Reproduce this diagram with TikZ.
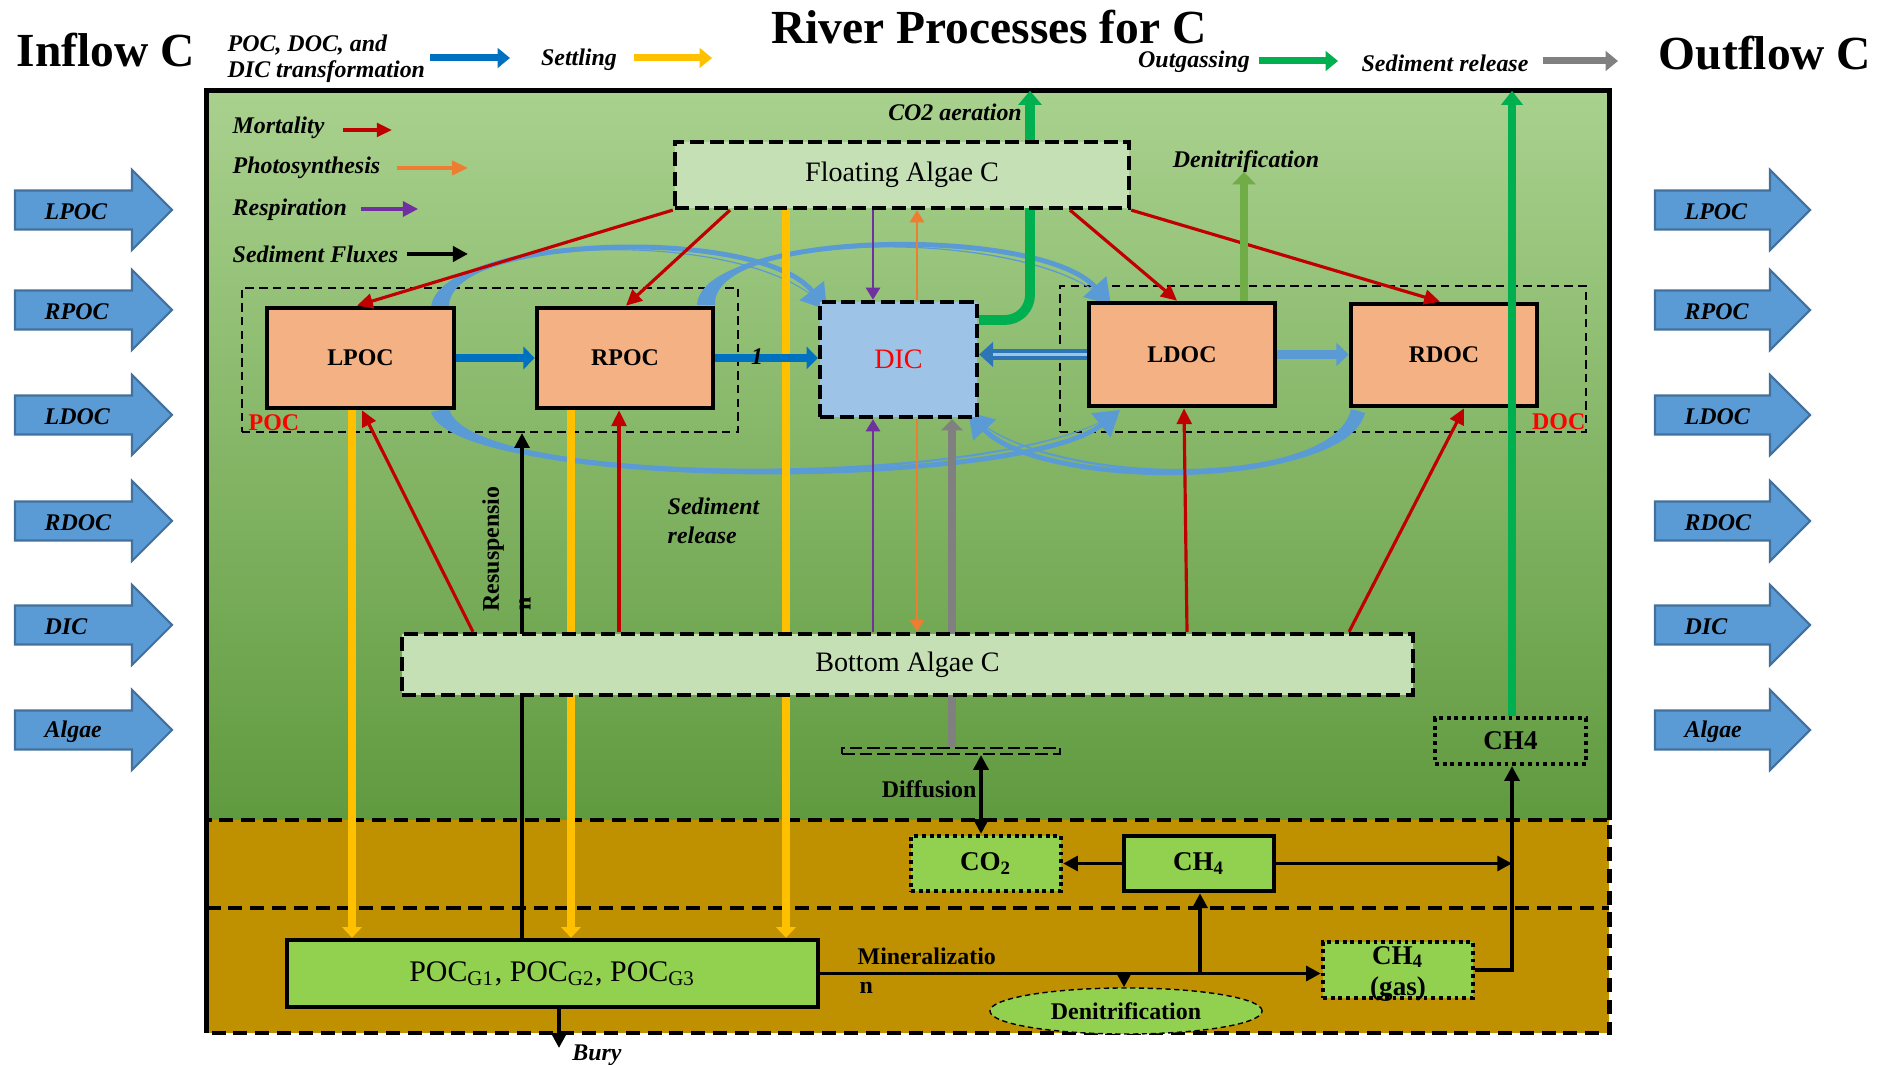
\documentclass[tikz,border=0pt]{standalone}
\usepackage{fontspec}
\setmainfont{Liberation Serif}
\usetikzlibrary{arrows.meta,shapes.geometric}
\definecolor{bluedk}{HTML}{0070C0}
\definecolor{bluelt}{HTML}{5B9BD5}
\definecolor{blueln}{HTML}{41719C}
\definecolor{bluemid}{HTML}{2E75B6}
\definecolor{yellowc}{HTML}{FFC000}
\definecolor{greenc}{HTML}{00B050}
\definecolor{grayc}{HTML}{808080}
\definecolor{redc}{HTML}{C00000}
\definecolor{orangec}{HTML}{ED7D31}
\definecolor{purplec}{HTML}{7030A0}
\definecolor{olivec}{HTML}{70AD47}
\definecolor{peach}{HTML}{F4B183}
\definecolor{paleg}{HTML}{C5E0B4}
\definecolor{dicb}{HTML}{9DC3E6}
\definecolor{brightg}{HTML}{92D050}
\definecolor{soil}{HTML}{BF9000}
\definecolor{gtop}{HTML}{A9D18E}
\definecolor{gbot}{HTML}{609A3F}
\definecolor{redt}{HTML}{FF0000}
\newcommand\fsA{\fontsize{6.8pt}{8pt}\selectfont}
\newcommand\fsB{\fontsize{8pt}{9.5pt}\selectfont}
\newcommand\fsC{\fontsize{7.7pt}{9pt}\selectfont}
\newcommand\fsD{\fontsize{8.5pt}{10pt}\selectfont}
\newcommand\fsT{\fontsize{13.5pt}{16pt}\selectfont}
\begin{document}
\begin{tikzpicture}[x=0.01cm, y=-0.01cm,
  txtb/.style={inner sep=0pt, font=\fsA\bfseries},
  txtbi/.style={inner sep=0pt, font=\fsA\bfseries\itshape},
  peachbox/.style={draw, line width=1.3pt, fill=peach, inner sep=0pt, font=\fsA\bfseries},
  dashbox/.style={draw, line width=1.2pt, dash pattern=on 4pt off 1.6pt, inner sep=0pt},
  dotbox/.style={draw, line width=1.2pt, dash pattern=on 1.1pt off 1.1pt, fill=brightg, inner sep=0pt},
  grpbox/.style={draw, line width=0.6pt, dash pattern=on 2.4pt off 1.5pt, inner sep=0pt},
  solidg/.style={draw, line width=1.3pt, fill=brightg, inner sep=0pt},
  fltbox/.style={dashbox, fill=paleg, minimum width=4.54cm, minimum height=0.66cm, font=\fsB},
  botbox/.style={dashbox, fill=paleg, minimum width=10.11cm, minimum height=0.61cm, font=\fsB},
  redarr/.style={draw=redc, line width=0.9pt, -{Triangle[length=4.5pt,width=4.2pt]}},
  purarr/.style={draw=purplec, line width=0.8pt, -{Triangle[length=3.5pt,width=4pt]}},
  orarr/.style={draw=orangec, line width=0.8pt, -{Triangle[length=3.5pt,width=4pt]}},
  yelarr/.style={draw=yellowc, line width=2.1pt, -{Triangle[length=3pt,width=5.5pt]}},
  grayarr/.style={draw=grayc, line width=2.3pt, -{Triangle[length=3.2pt,width=6pt]}},
  blkarr/.style={draw=black, line width=1.1pt, -{Triangle[length=4.2pt,width=4.2pt]}},
  dkblue/.style={draw=bluedk, line width=2.3pt, -{Triangle[length=3.2pt,width=6.3pt]}},
  curvearr/.style={draw=bluelt, line width=1.4pt, -{Triangle[length=7pt,width=8.5pt]}},
  blockarr/.style={fill=bluelt, draw=blueln, line width=0.6pt},
  sedline/.style={line width=1.3pt, dash pattern=on 4pt off 2.2pt},
]
% canvas
\path[use as bounding box, fill=white] (0,0) rectangle (1885,1065);

% water and sediment regions
\node[top color=gtop, bottom color=gbot, minimum width=14.02cm, minimum height=7.29cm, inner sep=0pt, outer sep=0pt] (water) at (908,455.5) {};
\node[fill=soil, minimum width=14.02cm, minimum height=2.13cm, inner sep=0pt, outer sep=0pt] (soilr) at (908,926.5) {};
\draw[line width=1.4pt] (soilr.south west) -- (water.north west) -- (water.north east) -- (water.south east);
\draw[sedline] (soilr.north west) rectangle (soilr.south east);
\coordinate (sl) at (0,908);
\draw[sedline] (soilr.west |- sl) -- (soilr.east |- sl);

% titles
\node[inner sep=0pt, font=\fsT\bfseries] (title) at (989,27) {River Processes for C};
\node[inner sep=0pt, font=\fsT\bfseries] (inflow) at (106,50) {Inflow C};
\node[inner sep=0pt, font=\fsT\bfseries] (outflow) at (1765,53) {Outflow C};

% top legend
\node[txtbi, anchor=west] (lgt1) at (227,45) {POC, DOC, and};
\node[txtbi, anchor=west] (lgt2) at (227,72) {DIC transformation};
\coordinate (lgA1) at (430,58); \coordinate (lgA2) at (510,58);
\draw[bluedk, line width=2pt, -{Triangle[length=3.5pt,width=5.5pt]}] (lgA1) -- (lgA2);
\node[txtbi] (lgset) at (579,60) {Settling};
\coordinate (lgB1) at (634,58); \coordinate (lgB2) at (712,58);
\draw[yellowc, line width=2pt, -{Triangle[length=3.5pt,width=5.5pt]}] (lgB1) -- (lgB2);
\node[txtbi] (lgout) at (1194,62) {Outgassing};
\coordinate (lgC1) at (1259,61); \coordinate (lgC2) at (1338,61);
\draw[greenc, line width=2pt, -{Triangle[length=3.5pt,width=5.5pt]}] (lgC1) -- (lgC2);
\node[txtbi] (lgsed) at (1445,63) {Sediment release};
\coordinate (lgD1) at (1543,61); \coordinate (lgD2) at (1618,61);
\draw[grayc, line width=2pt, -{Triangle[length=3.5pt,width=5.5pt]}] (lgD1) -- (lgD2);

% inner legend
\node[txtbi, anchor=west] (lgm) at (232,128) {Mortality};
\node[txtbi, anchor=west] (lgp) at (232,168) {Photosynthesis};
\node[txtbi, anchor=west] (lgr) at (232,210) {Respiration};
\node[txtbi, anchor=west] (lgs) at (232,254) {Sediment Fluxes};
\coordinate (lm1) at (343,130); \coordinate (lm2) at (392,130);
\draw[redc, line width=1.1pt, -{Triangle[length=4.3pt,width=3.8pt]}] (lm1) -- (lm2);
\coordinate (lp1) at (397,168); \coordinate (lp2) at (468,168);
\draw[orangec, line width=0.9pt, -{Triangle[length=4.5pt,width=4pt]}] (lp1) -- (lp2);
\coordinate (lr1) at (361,209); \coordinate (lr2) at (418,209);
\draw[purplec, line width=0.9pt, -{Triangle[length=4.3pt,width=4.3pt]}] (lr1) -- (lr2);
\coordinate (ls1) at (407,254); \coordinate (ls2) at (468,254);
\draw[black, line width=1.4pt, -{Triangle[length=4.3pt,width=4.3pt]}] (ls1) -- (ls2);

% inflow / outflow block arrows
\foreach \yy/\lab [count=\i] in {210/LPOC,310/RPOC,415/LDOC,521/RDOC,625/DIC,730/Algae}{
  \draw[blockarr] (15,\yy-19.5) -- (132,\yy-19.5) -- (132,\yy-40) -- (172,\yy) -- (132,\yy+40) -- (132,\yy+19.5) -- (15,\yy+19.5) -- cycle;
  \node[txtbi, anchor=west] (inL\i) at (44,\yy+2) {\lab};
  \draw[blockarr] (1655,\yy-19.5) -- (1770,\yy-19.5) -- (1770,\yy-40) -- (1810,\yy) -- (1770,\yy+40) -- (1770,\yy+19.5) -- (1655,\yy+19.5) -- cycle;
  \node[txtbi, anchor=west] (outR\i) at (1684,\yy+2) {\lab};
}

% group boxes
\node[grpbox, minimum width=4.96cm, minimum height=1.44cm] (pocgrp) at (490,360) {};
\node[grpbox, minimum width=5.26cm, minimum height=1.46cm] (docgrp) at (1323,359) {};
\node[inner sep=0pt, font=\fsA\bfseries, text=redt, anchor=west] (poclab) at (248,423) {POC};
\node[inner sep=0pt, font=\fsA\bfseries, text=redt, anchor=east] (doclab) at (1586,422) {DOC};

% blue curved transfers
\fill[bluelt] (431,308) .. controls (435,235) and (762,223.5) .. (827,310) .. controls (758,226.5) and (445,235) .. (449,308) -- cycle;
\fill[bluelt] (697,305) .. controls (701,230) and (1042,223.4) .. (1111,305) .. controls (1038,226.6) and (711,230) .. (715,305) -- cycle;
\fill[bluelt] (431,412) .. controls (455,491) and (1022,492) .. (1120,410) .. controls (1018,488) and (465,489) .. (449,408) -- cycle;
\fill[bluelt] (1365,413) .. controls (1345,491) and (1038,492) .. (968,412) .. controls (1042,488) and (1335,489) .. (1351,409) -- cycle;
\coordinate (c1s) at (440,308); \coordinate (c1e) at (827,310);
\coordinate (c2s) at (706,305); \coordinate (c2e) at (1111,305);
\coordinate (c3s) at (440,410); \coordinate (c3e) at (1120,410);
\coordinate (c4s) at (1358,411); \coordinate (c4e) at (968,412);
\draw[curvearr] (c1s) .. controls (440,235) and (760,225) .. (c1e);
\draw[curvearr] (c2s) .. controls (706,230) and (1040,225) .. (c2e);
\draw[curvearr] (c3s) .. controls (460,490) and (1020,490) .. (c3e);
\draw[curvearr] (c4s) .. controls (1340,490) and (1040,490) .. (c4e);

% x positions of vertical connectors
\coordinate (ya) at (352,0); \coordinate (yb) at (571,0); \coordinate (yc) at (786,0);
\coordinate (pa) at (873,0); \coordinate (oa) at (917,0); \coordinate (ga) at (952,0);
\coordinate (ra) at (522,0); \coordinate (aer) at (1030,320); \coordinate (gout) at (1512,0);
\coordinate (olx) at (1244,0); \coordinate (oltop) at (1244,172);

% boxes
\node[fltbox] (flt) at (902,175) {Floating Algae C};
\node[botbox] (bot) at (907.5,664.5) {Bottom Algae C};
\node[draw, line width=0.6pt, dash pattern=on 3.6pt off 1.4pt, minimum width=2.18cm, minimum height=0.06cm, inner sep=0pt] (diff) at (951,751) {};
\node[solidg, minimum width=5.31cm, minimum height=0.67cm, font=\fsD] (pocg) at (552.5,973.5) {POC\textsubscript{G1}, POC\textsubscript{G2}, POC\textsubscript{G3}};
\node[peachbox, minimum width=1.87cm, minimum height=1.00cm] (lpoc) at (360.5,358) {LPOC};
\node[peachbox, minimum width=1.76cm, minimum height=1.00cm] (rpoc) at (625,358) {RPOC};
\node[dashbox, fill=dicb, minimum width=1.57cm, minimum height=1.15cm, font=\fsB, text=redt] (dic) at (898.5,359.5) {DIC};
\node[peachbox, minimum width=1.86cm, minimum height=1.03cm] (ldoc) at (1182,354.5) {LDOC};
\node[peachbox, minimum width=1.86cm, minimum height=1.02cm] (rdoc) at (1444,355) {RDOC};
\node[dotbox, minimum width=1.5cm, minimum height=0.55cm, font=\fsC\bfseries] (co2) at (986,863.5) {CO\textsubscript{2}};
\node[solidg, minimum width=1.5cm, minimum height=0.55cm, font=\fsC\bfseries] (ch4) at (1199,863.5) {CH\textsubscript{4}};
\node[dotbox, minimum width=1.5cm, minimum height=0.56cm] (ch4g) at (1398,970) {};
\node[inner sep=0pt, font=\fsC\bfseries, align=center] (ch4gl) at (1398,974) {CH\textsubscript{4}\\(gas)};
\node[dotbox, fill=none, minimum width=1.51cm, minimum height=0.46cm, font=\fsC\bfseries] (ch4w) at (1510.5,741) {CH4};
\node[ellipse, draw, line width=0.4pt, dash pattern=on 1.5pt off 1pt, fill=brightg, minimum width=2.72cm, minimum height=0.46cm, inner sep=0pt, font=\fsA\bfseries] (den) at (1126,1011) {Denitrification};

% lines passing behind the algae boxes
\draw[greenc, line width=2.8pt, rounded corners=0.25cm, -{Triangle[length=4pt,width=6.5pt]}] (dic.east |- aer) -- (aer) -- (water.north -| aer);
\draw[yelarr] (flt.south -| yc) -- (pocg.north -| yc);
\draw[yelarr] (lpoc.south -| ya) -- (pocg.north -| ya);
\draw[yelarr] (rpoc.south -| yb) -- (pocg.north -| yb);
\draw[draw=black, line width=0.9pt, -{Triangle[length=4.2pt,width=4.2pt]}] (pocg.north -| ra) -- (pocgrp.south -| ra);
\draw[grayarr] (diff.north -| ga) -- (dic.south -| ga);

% algae boxes drawn again over those lines
\node[fltbox] (flt2) at (flt) {Floating Algae C};
\node[botbox] (bot2) at (bot) {Bottom Algae C};

% mortality (red)
\coordinate (m2a) at (730,0); \coordinate (m2b) at (626,0);
\coordinate (m3a) at (1070,0); \coordinate (m3b) at (1177,0);
\coordinate (m1b) at (357,0); \coordinate (m4b) at (1440,0);
\draw[redarr] (flt.south west) -- (lpoc.north -| m1b);
\draw[redarr] (flt.south -| m2a) -- (rpoc.north -| m2b);
\draw[redarr] (flt.south -| m3a) -- (ldoc.north -| m3b);
\draw[redarr] (flt.south east) -- (rdoc.north -| m4b);
\coordinate (b1a) at (473,0); \coordinate (b1b) at (362,0);
\coordinate (b2a) at (619,0);
\coordinate (b3a) at (1187,0); \coordinate (b3b) at (1184,0);
\coordinate (b4a) at (1349,0); \coordinate (b4b) at (1464,0);
\draw[redarr] (bot.north -| b1a) -- (lpoc.south -| b1b);
\draw[redarr] (bot.north -| b2a) -- (rpoc.south -| b2a);
\draw[redarr] (bot.north -| b3a) -- (ldoc.south -| b3b);
\draw[redarr] (bot.north -| b4a) -- (rdoc.south -| b4b);

% respiration / photosynthesis
\draw[purarr] (flt.south -| pa) -- (dic.north -| pa);
\draw[purarr] (bot.north -| pa) -- (dic.south -| pa);
\draw[orarr] (dic.north -| oa) -- (flt.south -| oa);
\draw[orarr] (dic.south -| oa) -- (bot.north -| oa);

% transformations (straight)
\draw[dkblue] (lpoc.east) -- (rpoc.west);
\draw[dkblue] (rpoc.east) -- (dic.west |- rpoc.east);
\node[txtbi] (one) at (757,357) {1};
\draw[bluelt, line width=2.8pt, -{Triangle[length=3.5pt,width=6.5pt]}] (ldoc.east) -- (rdoc.west |- ldoc.east);
\draw[bluemid, line width=3pt, -{Triangle[length=4pt,width=7pt]}] (ldoc.west) -- (dic.east |- ldoc.west);
\draw[dicb, line width=1.1pt, shorten >=4pt] (ldoc.west) -- (dic.east |- ldoc.west);

% outgassing and denitrification
\draw[greenc, line width=2.3pt, -{Triangle[length=4pt,width=6pt]}] (ch4w.north -| gout) -- (water.north -| gout);
\draw[olivec, line width=2.5pt, -{Triangle[length=3.5pt,width=6.5pt]}] (ldoc.north -| olx) -- (oltop);
\node[txtbi] (aerlab) at (955,112) {CO2 aeration};
\node[txtbi] (denlab) at (1246,162) {Denitrification};

% labels in water
\node[txtb, rotate=90] (resus) at (493,549) {Resuspensio};
\node[txtb, rotate=90] (resusn) at (525,604) {n};
\node[txtbi, anchor=west] (sr1) at (667,506) {Sediment};
\node[txtbi, anchor=west] (sr2) at (667,535) {release};

% sediment fluxes
\coordinate (d1) at (981,0); \coordinate (xj) at (1512,0);
\coordinate (mu) at (1200,0); \coordinate (md) at (1124,0);
\coordinate (bx) at (559,0); \coordinate (bury) at (559,1048);
\draw[blkarr, {Triangle[length=4.2pt,width=4.2pt]}-{Triangle[length=4.2pt,width=4.2pt]}] (diff.south -| d1) -- (co2.north -| d1);
\node[txtb, anchor=east] (difflab) at (977,789) {Diffusion};
\draw[blkarr] (ch4.west) -- (co2.east);
\draw[blkarr] (ch4.east) -- (xj |- ch4.east);
\draw[blkarr] (ch4g.east) -- (xj |- ch4g.east) -- (ch4w.south -| xj);
\draw[blkarr] (pocg.east) -- (ch4g.west |- pocg.east);
\draw[blkarr] (mu |- pocg.east) -- (ch4.south -| mu);
\draw[blkarr] (md |- pocg.east) -- (den.north -| md);
\draw[blkarr] (pocg.south -| bx) -- (bury);
\node[txtb, anchor=west] (minlab) at (857,956) {Mineralizatio};
\node[txtb, anchor=west] (minlabn) at (859,988) {n};
\node[txtbi] (burylab) at (597,1055) {Bury};
\end{tikzpicture}
\end{document}
